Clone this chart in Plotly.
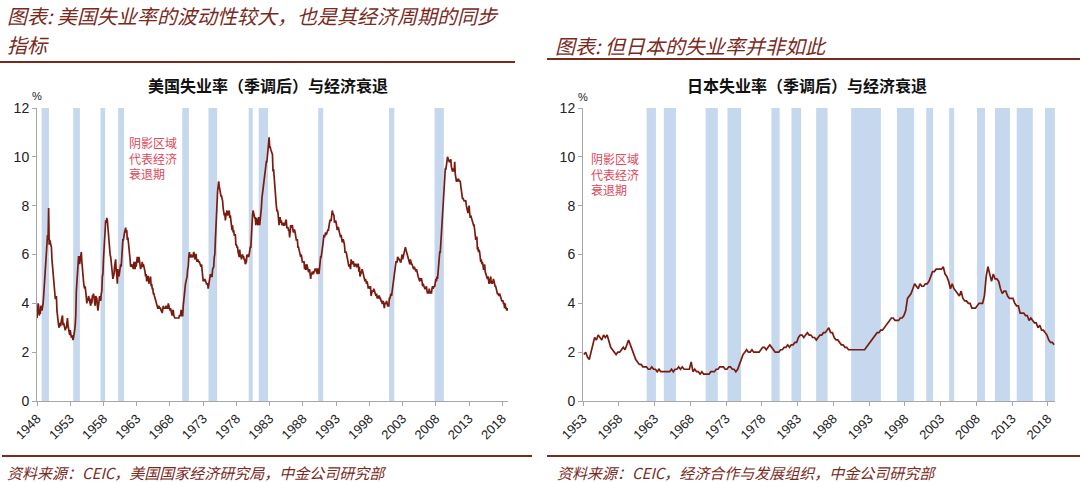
import plotly.graph_objects as go

# ---------------- data ----------------
us_start_year = 1948  # monthly, seasonally adjusted unemployment rate (%)
us_rate = [
    3.4, 3.8, 4.0, 3.9, 3.5, 3.6, 3.6, 3.9, 3.8, 3.7, 3.8, 4.0,  # 1948
    4.3, 4.7, 5.0, 5.3, 6.1, 6.2, 6.7, 6.8, 6.6, 7.9, 6.4, 6.6,  # 1949
    6.5, 6.4, 6.3, 5.8, 5.5, 5.4, 5.0, 4.5, 4.4, 4.2, 4.2, 4.3,  # 1950
    3.7, 3.4, 3.4, 3.1, 3.0, 3.2, 3.1, 3.1, 3.3, 3.5, 3.5, 3.1,  # 1951
    3.2, 3.1, 2.9, 2.9, 3.0, 3.0, 3.2, 3.4, 3.1, 3.0, 2.8, 2.7,  # 1952
    2.9, 2.6, 2.6, 2.7, 2.5, 2.5, 2.6, 2.7, 2.9, 3.1, 3.5, 4.5,  # 1953
    4.9, 5.2, 5.7, 5.9, 5.9, 5.6, 5.8, 6.0, 6.1, 5.7, 5.3, 5.0,  # 1954
    4.9, 4.7, 4.6, 4.7, 4.3, 4.2, 4.0, 4.2, 4.1, 4.3, 4.2, 4.2,  # 1955
    4.0, 3.9, 4.2, 4.0, 4.3, 4.3, 4.4, 4.1, 3.9, 3.9, 4.3, 4.2,  # 1956
    4.2, 3.9, 3.7, 3.9, 4.1, 4.3, 4.2, 4.1, 4.4, 4.5, 5.1, 5.2,  # 1957
    5.8, 6.4, 6.7, 7.4, 7.4, 7.3, 7.5, 7.4, 7.1, 6.7, 6.2, 6.2,  # 1958
    6.0, 5.9, 5.6, 5.2, 5.1, 5.0, 5.1, 5.2, 5.5, 5.7, 5.8, 5.3,  # 1959
    5.2, 4.8, 5.4, 5.2, 5.1, 5.4, 5.5, 5.6, 5.5, 6.1, 6.1, 6.6,  # 1960
    6.6, 6.9, 6.9, 7.0, 7.1, 6.9, 7.0, 6.6, 6.7, 6.5, 6.1, 6.0,  # 1961
    5.8, 5.5, 5.6, 5.6, 5.5, 5.5, 5.4, 5.7, 5.6, 5.4, 5.7, 5.5,  # 1962
    5.7, 5.9, 5.7, 5.7, 5.9, 5.6, 5.6, 5.4, 5.5, 5.5, 5.7, 5.5,  # 1963
    5.6, 5.4, 5.4, 5.3, 5.1, 5.2, 4.9, 5.0, 5.1, 5.1, 4.8, 5.0,  # 1964
    4.9, 5.1, 4.7, 4.8, 4.6, 4.6, 4.4, 4.4, 4.3, 4.2, 4.1, 4.0,  # 1965
    4.0, 3.8, 3.8, 3.8, 3.9, 3.8, 3.8, 3.8, 3.7, 3.7, 3.6, 3.8,  # 1966
    3.9, 3.8, 3.8, 3.8, 3.8, 3.9, 3.8, 3.8, 3.8, 4.0, 3.9, 3.8,  # 1967
    3.7, 3.8, 3.7, 3.5, 3.5, 3.7, 3.7, 3.5, 3.4, 3.4, 3.4, 3.4,  # 1968
    3.4, 3.4, 3.4, 3.4, 3.4, 3.5, 3.5, 3.5, 3.7, 3.7, 3.5, 3.5,  # 1969
    3.9, 4.2, 4.4, 4.6, 4.8, 4.9, 5.0, 5.1, 5.4, 5.5, 5.9, 6.1,  # 1970
    5.9, 5.9, 6.0, 5.9, 5.9, 5.9, 6.0, 6.1, 6.0, 5.8, 6.0, 6.0,  # 1971
    5.8, 5.7, 5.8, 5.7, 5.7, 5.7, 5.6, 5.6, 5.5, 5.6, 5.3, 5.2,  # 1972
    4.9, 5.0, 4.9, 5.0, 4.9, 4.9, 4.8, 4.8, 4.8, 4.6, 4.8, 4.9,  # 1973
    5.1, 5.2, 5.1, 5.1, 5.1, 5.4, 5.5, 5.5, 5.9, 6.0, 6.6, 7.2,  # 1974
    8.1, 8.1, 8.6, 8.8, 9.0, 8.8, 8.6, 8.4, 8.4, 8.4, 8.3, 8.2,  # 1975
    7.9, 7.7, 7.6, 7.7, 7.4, 7.6, 7.8, 7.8, 7.6, 7.7, 7.8, 7.8,  # 1976
    7.5, 7.6, 7.4, 7.2, 7.0, 7.2, 6.9, 7.0, 6.8, 6.8, 6.8, 6.4,  # 1977
    6.4, 6.3, 6.3, 6.1, 6.0, 5.9, 6.2, 5.9, 6.0, 5.8, 5.9, 6.0,  # 1978
    5.9, 5.9, 5.8, 5.8, 5.6, 5.7, 5.7, 6.0, 5.9, 6.0, 5.9, 6.0,  # 1979
    6.3, 6.3, 6.3, 6.9, 7.5, 7.6, 7.8, 7.7, 7.5, 7.5, 7.5, 7.2,  # 1980
    7.5, 7.4, 7.4, 7.2, 7.5, 7.5, 7.2, 7.4, 7.6, 7.9, 8.3, 8.5,  # 1981
    8.6, 8.9, 9.0, 9.3, 9.4, 9.6, 9.8, 9.8, 10.1, 10.4, 10.8, 10.8,  # 1982
    10.4, 10.4, 10.3, 10.2, 10.1, 10.1, 9.4, 9.5, 9.2, 8.8, 8.5, 8.3,  # 1983
    8.0, 7.8, 7.8, 7.7, 7.4, 7.2, 7.5, 7.5, 7.3, 7.4, 7.2, 7.3,  # 1984
    7.3, 7.2, 7.2, 7.3, 7.2, 7.4, 7.4, 7.1, 7.1, 7.1, 7.0, 7.0,  # 1985
    6.7, 7.2, 7.2, 7.1, 7.2, 7.2, 7.0, 6.9, 7.0, 7.0, 6.9, 6.6,  # 1986
    6.6, 6.6, 6.6, 6.3, 6.3, 6.2, 6.1, 6.0, 5.9, 6.0, 5.8, 5.7,  # 1987
    5.7, 5.7, 5.7, 5.4, 5.6, 5.4, 5.4, 5.6, 5.4, 5.4, 5.3, 5.3,  # 1988
    5.4, 5.2, 5.0, 5.2, 5.2, 5.3, 5.2, 5.2, 5.3, 5.3, 5.4, 5.4,  # 1989
    5.4, 5.3, 5.2, 5.4, 5.4, 5.2, 5.5, 5.7, 5.9, 5.9, 6.2, 6.3,  # 1990
    6.4, 6.6, 6.8, 6.7, 6.9, 6.9, 6.8, 6.9, 6.9, 7.0, 7.0, 7.3,  # 1991
    7.3, 7.4, 7.4, 7.4, 7.6, 7.8, 7.7, 7.6, 7.6, 7.3, 7.4, 7.4,  # 1992
    7.3, 7.1, 7.0, 7.1, 7.1, 7.0, 6.9, 6.8, 6.7, 6.8, 6.6, 6.5,  # 1993
    6.6, 6.6, 6.5, 6.4, 6.1, 6.1, 6.1, 6.0, 5.9, 5.8, 5.6, 5.5,  # 1994
    5.6, 5.4, 5.4, 5.8, 5.6, 5.6, 5.7, 5.7, 5.6, 5.5, 5.6, 5.6,  # 1995
    5.6, 5.5, 5.5, 5.6, 5.6, 5.3, 5.5, 5.1, 5.2, 5.2, 5.4, 5.4,  # 1996
    5.3, 5.2, 5.2, 5.1, 4.9, 5.0, 4.9, 4.8, 4.9, 4.7, 4.6, 4.7,  # 1997
    4.6, 4.6, 4.7, 4.3, 4.4, 4.5, 4.5, 4.5, 4.6, 4.5, 4.4, 4.4,  # 1998
    4.3, 4.4, 4.2, 4.3, 4.2, 4.3, 4.3, 4.2, 4.2, 4.1, 4.1, 4.0,  # 1999
    4.0, 4.1, 4.0, 3.8, 4.0, 4.0, 4.0, 4.1, 3.9, 3.9, 3.9, 3.9,  # 2000
    4.2, 4.2, 4.3, 4.4, 4.3, 4.5, 4.6, 4.9, 5.0, 5.3, 5.5, 5.7,  # 2001
    5.7, 5.7, 5.7, 5.9, 5.8, 5.8, 5.8, 5.7, 5.7, 5.7, 5.9, 6.0,  # 2002
    5.8, 5.9, 5.9, 6.0, 6.1, 6.3, 6.2, 6.1, 6.1, 6.0, 5.8, 5.7,  # 2003
    5.7, 5.6, 5.8, 5.6, 5.6, 5.6, 5.5, 5.4, 5.4, 5.5, 5.4, 5.4,  # 2004
    5.3, 5.4, 5.2, 5.2, 5.1, 5.0, 5.0, 4.9, 5.0, 5.0, 5.0, 4.9,  # 2005
    4.7, 4.8, 4.7, 4.7, 4.6, 4.6, 4.7, 4.7, 4.5, 4.4, 4.5, 4.4,  # 2006
    4.6, 4.5, 4.4, 4.5, 4.4, 4.6, 4.7, 4.6, 4.7, 4.7, 4.7, 5.0,  # 2007
    5.0, 4.9, 5.1, 5.0, 5.4, 5.6, 5.8, 6.1, 6.1, 6.5, 6.8, 7.3,  # 2008
    7.8, 8.3, 8.7, 9.0, 9.4, 9.5, 9.5, 9.6, 9.8, 10.0, 9.9, 9.9,  # 2009
    9.8, 9.8, 9.9, 9.9, 9.6, 9.4, 9.4, 9.5, 9.5, 9.4, 9.8, 9.3,  # 2010
    9.1, 9.0, 9.0, 9.1, 9.0, 9.1, 9.0, 9.0, 9.0, 8.8, 8.6, 8.5,  # 2011
    8.3, 8.3, 8.2, 8.2, 8.2, 8.2, 8.2, 8.0, 7.8, 7.8, 7.7, 7.9,  # 2012
    8.0, 7.7, 7.5, 7.6, 7.5, 7.5, 7.3, 7.2, 7.2, 7.2, 6.9, 6.7,  # 2013
    6.6, 6.7, 6.7, 6.2, 6.3, 6.1, 6.2, 6.1, 5.9, 5.7, 5.8, 5.6,  # 2014
    5.7, 5.5, 5.4, 5.4, 5.6, 5.3, 5.2, 5.1, 5.0, 5.0, 5.1, 5.0,  # 2015
    4.8, 4.9, 5.0, 5.1, 4.8, 4.9, 4.8, 4.9, 5.0, 4.9, 4.7, 4.7,  # 2016
    4.7, 4.6, 4.4, 4.4, 4.4, 4.3, 4.3, 4.4, 4.3, 4.2, 4.2, 4.1,  # 2017
    4.1, 4.1, 4.0, 4.0, 3.8, 4.0, 3.8, 3.8, 3.7, 3.8, 3.7,       # 2018
]

jp_start_year = 1953  # quarterly, seasonally adjusted unemployment rate (%)
jp_rate = [
    1.9, 2.0, 1.8, 1.7,  # 1953
    2.0, 2.3, 2.6, 2.5,  # 1954
    2.7, 2.6, 2.5, 2.7,  # 1955
    2.6, 2.7, 2.4, 2.2,  # 1956
    2.1, 2.0, 1.9, 2.0,  # 1957
    2.0, 2.1, 2.2, 2.1,  # 1958
    2.3, 2.5, 2.3, 2.1,  # 1959
    1.9, 1.7, 1.6, 1.5,  # 1960
    1.5, 1.4, 1.4, 1.4,  # 1961
    1.3, 1.3, 1.4, 1.3,  # 1962
    1.3, 1.2, 1.3, 1.2,  # 1963
    1.2, 1.2, 1.2, 1.2,  # 1964
    1.2, 1.3, 1.2, 1.3,  # 1965
    1.3, 1.4, 1.3, 1.4,  # 1966
    1.3, 1.3, 1.3, 1.3,  # 1967
    1.6, 1.2, 1.3, 1.2,  # 1968
    1.2, 1.1, 1.2, 1.1,  # 1969
    1.1, 1.1, 1.1, 1.2,  # 1970
    1.2, 1.2, 1.3, 1.3,  # 1971
    1.4, 1.4, 1.4, 1.3,  # 1972
    1.3, 1.4, 1.4, 1.3,  # 1973
    1.3, 1.2, 1.3, 1.5,  # 1974
    1.7, 1.9, 2.0, 2.1,  # 1975
    2.0, 2.0, 2.1, 2.0,  # 1976
    2.0, 2.0, 2.0, 2.1,  # 1977
    2.2, 2.2, 2.1, 2.2,  # 1978
    2.3, 2.2, 2.1, 2.0,  # 1979
    2.0, 2.0, 2.1, 2.1,  # 1980
    2.2, 2.2, 2.3, 2.2,  # 1981
    2.3, 2.3, 2.4, 2.4,  # 1982
    2.6, 2.7, 2.7, 2.6,  # 1983
    2.7, 2.8, 2.7, 2.7,  # 1984
    2.6, 2.6, 2.5, 2.6,  # 1985
    2.7, 2.7, 2.8, 2.8,  # 1986
    2.9, 3.0, 2.8, 2.8,  # 1987
    2.6, 2.5, 2.5, 2.4,  # 1988
    2.3, 2.3, 2.2, 2.2,  # 1989
    2.1, 2.1, 2.1, 2.1,  # 1990
    2.1, 2.1, 2.1, 2.1,  # 1991
    2.1, 2.1, 2.2, 2.3,  # 1992
    2.4, 2.5, 2.6, 2.7,  # 1993
    2.8, 2.8, 2.9, 2.9,  # 1994
    3.0, 3.1, 3.2, 3.3,  # 1995
    3.4, 3.4, 3.3, 3.3,  # 1996
    3.3, 3.4, 3.4, 3.5,  # 1997
    3.7, 4.2, 4.3, 4.4,  # 1998
    4.6, 4.8, 4.7, 4.6,  # 1999
    4.8, 4.7, 4.7, 4.8,  # 2000
    4.8, 4.9, 5.1, 5.3,  # 2001
    5.3, 5.4, 5.4, 5.4,  # 2002
    5.4, 5.5, 5.2, 5.1,  # 2003
    4.9, 4.6, 4.8, 4.6,  # 2004
    4.5, 4.4, 4.3, 4.5,  # 2005
    4.2, 4.1, 4.1, 4.0,  # 2006
    4.0, 3.8, 3.8, 3.8,  # 2007
    3.9, 4.0, 4.0, 4.0,  # 2008
    4.3, 5.1, 5.5, 5.2,  # 2009
    4.9, 5.2, 5.0, 5.0,  # 2010
    4.9, 4.6, 4.4, 4.5,  # 2011
    4.5, 4.3, 4.2, 4.2,  # 2012
    4.2, 4.0, 3.9, 3.9,  # 2013
    3.6, 3.6, 3.6, 3.5,  # 2014
    3.5, 3.3, 3.4, 3.3,  # 2015
    3.2, 3.2, 3.0, 3.1,  # 2016
    2.9, 2.9, 2.8, 2.7,  # 2017
    2.5, 2.4, 2.4, 2.3,  # 2018
]

# recession periods (start, end) in decimal years
us_recession_start = [1948.70, 1953.45, 1957.55, 1960.20, 1969.85, 1973.80, 1979.85, 1981.35, 1990.30, 2000.95, 2007.80]
us_recession_end   = [1949.80, 1954.45, 1958.25, 1961.10, 1970.85, 1975.10, 1980.45, 1982.75, 1991.05, 2001.75, 2009.20]
jp_recession_start = [1961.90, 1964.30, 1970.15, 1973.20, 1979.35, 1982.15, 1985.60, 1990.50, 1996.90, 2001.00, 2004.20, 2008.10, 2010.60, 2013.65, 2017.60]
jp_recession_end   = [1963.20, 1966.00, 1971.85, 1975.10, 1980.50, 1983.50, 1987.20, 1994.65, 1999.30, 2001.95, 2004.90, 2009.20, 2012.70, 2015.90, 2018.98]

us_ticks = list(range(1948, 2019, 5))
jp_ticks = list(range(1953, 2019, 5))
y_ticks = [0, 2, 4, 6, 8, 10, 12]

# ---------------- style ----------------
W, H = 1080, 482
LINE_COLOR = "#7a1b10"
BAND_COLOR = "#c5d8ee"
AXIS_COLOR = "#a6a6a6"
HEAD_COLOR = "#7a2a1c"
CJK = "Noto Sans CJK SC"
NUM = "Liberation Sans"


def px(x):
    return x / W


def py(y):
    return (H - y) / H


us_x = [us_start_year + i / 12 for i in range(len(us_rate))]
jp_x = [jp_start_year + i / 4 + 0.125 for i in range(len(jp_rate))]

fig = go.Figure()
fig.add_trace(go.Scatter(x=us_x, y=us_rate, mode="lines", xaxis="x", yaxis="y",
                         line=dict(color=LINE_COLOR, width=1.7), showlegend=False, hoverinfo="skip"))
fig.add_trace(go.Scatter(x=jp_x, y=jp_rate, mode="lines", xaxis="x2", yaxis="y2",
                         line=dict(color=LINE_COLOR, width=1.7), showlegend=False, hoverinfo="skip"))

shapes = []
for s, e in zip(us_recession_start, us_recession_end):
    shapes.append(dict(type="rect", xref="x", yref="y", x0=s, x1=e, y0=0, y1=12,
                       fillcolor=BAND_COLOR, line=dict(width=0), layer="below"))
for s, e in zip(jp_recession_start, jp_recession_end):
    shapes.append(dict(type="rect", xref="x2", yref="y2", x0=s, x1=e, y0=0, y1=12,
                       fillcolor=BAND_COLOR, line=dict(width=0), layer="below"))
# header / footer rules
for x0, x1, y in [(0, 515, 62), (547, 1080, 59), (2, 532, 456), (547, 1080, 456)]:
    shapes.append(dict(type="line", xref="paper", yref="paper", x0=px(x0), x1=px(x1),
                       y0=py(y), y1=py(y), line=dict(color=HEAD_COLOR, width=2)))

ydom = [py(401), py(108)]
axis_common = dict(showgrid=False, zeroline=False, showline=True, linecolor=AXIS_COLOR, linewidth=1,
                   ticks="outside", ticklen=4, tickcolor=AXIS_COLOR, automargin=False)

fig.update_layout(
    template="none",
    width=W, height=H, margin=dict(l=0, r=0, t=0, b=0, pad=0),
    paper_bgcolor="white", plot_bgcolor="white",
    shapes=shapes,
    xaxis=dict(domain=[px(37), px(508)], range=[1948, 2018.85], anchor="y",
               tickmode="array", tickvals=us_ticks, ticktext=[str(t) for t in us_ticks],
               tickangle=-45, tickfont=dict(family=NUM, size=13, color="#222"), **axis_common),
    yaxis=dict(domain=ydom, range=[0, 12], anchor="x", tickmode="array", tickvals=y_ticks,
               tickfont=dict(family=NUM, size=14, color="#222"), **axis_common),
    xaxis2=dict(domain=[px(583), px(1055)], range=[1953, 2019.0], anchor="y2",
                tickmode="array", tickvals=jp_ticks, ticktext=[str(t) for t in jp_ticks],
                tickangle=-45, tickfont=dict(family=NUM, size=13, color="#222"), **axis_common),
    yaxis2=dict(domain=ydom, range=[0, 12], anchor="x2", tickmode="array", tickvals=y_ticks,
                tickfont=dict(family=NUM, size=14, color="#222"), **axis_common),
)

head_font = dict(family=CJK, size=20, color=HEAD_COLOR, style="italic")
src_font = dict(family=CJK, size=15, color=HEAD_COLOR, style="italic")
title_font = dict(family=CJK, size=16, color="#111", weight="bold")
note_font = dict(family=CJK, size=12, color="#e0475a")
pct_font = dict(family=NUM, size=11, color="#222")

ann = [
    dict(x=px(5), y=py(15), text="图表: 美国失业率的波动性较大，也是其经济周期的同步",
         xanchor="left", yanchor="middle", font=head_font),
    dict(x=px(5), y=py(44), text="指标", xanchor="left", yanchor="middle", font=head_font),
    dict(x=px(553), y=py(45), text="图表: 但日本的失业率并非如此",
         xanchor="left", yanchor="middle", font=head_font),
    dict(x=px(268), y=py(85), text="美国失业率（季调后）与经济衰退",
         xanchor="center", yanchor="middle", font=title_font),
    dict(x=px(807), y=py(85), text="日本失业率（季调后）与经济衰退",
         xanchor="center", yanchor="middle", font=title_font),
    dict(x=px(37), y=py(96), text="%", xanchor="center", yanchor="middle", font=pct_font),
    dict(x=px(583), y=py(97), text="%", xanchor="center", yanchor="middle", font=pct_font),
    dict(x=px(127), y=py(132), text="阴影区域<br>代表经济<br>衰退期", align="left",
         xanchor="left", yanchor="top", font=note_font),
    dict(x=px(589), y=py(148), text="阴影区域<br>代表经济<br>衰退期", align="left",
         xanchor="left", yanchor="top", font=note_font),
    dict(x=px(5), y=py(472), text="资料来源：CEIC，美国国家经济研究局，中金公司研究部",
         xanchor="left", yanchor="middle", font=src_font),
    dict(x=px(555), y=py(472), text="资料来源：CEIC，经济合作与发展组织，中金公司研究部",
         xanchor="left", yanchor="middle", font=src_font),
]
for a in ann:
    a.update(xref="paper", yref="paper", showarrow=False)
fig.update_layout(annotations=ann)

fig.write_html("out.html")
